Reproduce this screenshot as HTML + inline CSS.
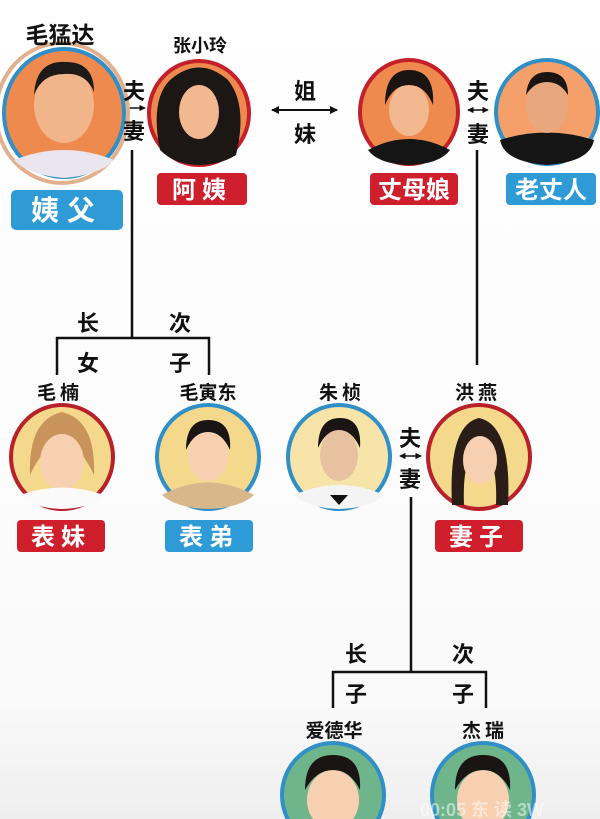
<!DOCTYPE html>
<html><head><meta charset="utf-8"><style>
html,body{margin:0;padding:0;background:#fff;}
svg{display:block;}
text{font-family:"Liberation Sans","Noto Sans CJK SC",sans-serif;font-weight:bold;}
</style></head><body>
<svg width="600" height="819" viewBox="0 0 600 819" xmlns="http://www.w3.org/2000/svg">
<defs>
<linearGradient id="bg" x1="0" y1="0" x2="0" y2="1">
<stop offset="0" stop-color="#ffffff"/><stop offset="0.85" stop-color="#fafafa"/><stop offset="1" stop-color="#eeeeee"/>
</linearGradient>
<marker id="ah" markerWidth="4" markerHeight="4" refX="3.5" refY="2" orient="auto-start-reverse" markerUnits="strokeWidth"><path d="M0,0 L4,2 L0,4 z" fill="#111"/></marker>
</defs>
<rect width="600" height="819" fill="url(#bg)"/>

<!-- lines -->
<g stroke="#111" stroke-width="2.5" fill="none">
<line x1="132" y1="150" x2="132" y2="338"/>
<polyline points="57,375 57,338 209,338 209,375"/>
<line x1="477" y1="150" x2="477" y2="365"/>
<line x1="411" y1="497" x2="411" y2="672"/>
<polyline points="333,708 333,672 486,672 486,708"/>
<line x1="272" y1="110" x2="337" y2="110" marker-start="url(#ah)" marker-end="url(#ah)" stroke-width="2"/>
<line x1="468" y1="110" x2="488" y2="110" marker-start="url(#ah)" marker-end="url(#ah)" stroke-width="1.6"/>
<line x1="400" y1="456" x2="421" y2="456" marker-start="url(#ah)" marker-end="url(#ah)" stroke-width="1.6"/>
<line x1="128" y1="108" x2="145" y2="108" marker-end="url(#ah)" stroke-width="1.6"/>
</g>

<!-- top row portraits -->
<ellipse cx="62" cy="113" rx="66" ry="70" fill="none" stroke="#e3b08e" stroke-width="4"/>
<g>
<ellipse cx="64" cy="113" rx="60" ry="64" fill="#ef8a4f" stroke="#2f8fc6" stroke-width="4"/>
<path d="M14,160 Q64,140 114,160 Q100,175 64,178 Q28,175 14,160z" fill="#e9e6f0"/>
<ellipse cx="64" cy="105" rx="30" ry="38" fill="#f1b58a"/>
<path d="M34,95 Q36,60 66,62 Q94,62 94,92 Q86,72 64,74 Q42,74 34,95z" fill="#1e1a18"/>
</g>
<g>
<ellipse cx="199" cy="113" rx="50" ry="52" fill="#ef8a4f" stroke="#c3202a" stroke-width="4"/>
<path d="M160,150 Q150,100 170,80 Q199,55 228,80 Q248,105 236,155 Q220,165 199,165 Q175,165 160,150z" fill="#1c1614"/>
<ellipse cx="199" cy="112" rx="20" ry="27" fill="#f2b890"/>
</g>
<g>
<ellipse cx="409" cy="112" rx="49" ry="52" fill="#ef8a4f" stroke="#c3202a" stroke-width="4"/>
<path d="M368,150 Q409,128 450,150 Q440,164 409,165 Q378,164 368,150z" fill="#151515"/>
<ellipse cx="409" cy="110" rx="20" ry="26" fill="#f2b890"/>
<path d="M385,105 Q385,70 409,70 Q435,70 433,105 Q425,85 409,85 Q393,85 385,105z" fill="#1a1513"/>
</g>
<g>
<ellipse cx="547" cy="112" rx="51" ry="52" fill="#f5a06a" stroke="#2f8fc6" stroke-width="4"/>
<path d="M500,140 Q547,125 594,140 Q590,162 547,165 Q504,162 500,140z" fill="#151515"/>
<ellipse cx="547" cy="105" rx="21" ry="28" fill="#e8a87e"/>
<path d="M526,95 Q528,72 547,72 Q568,72 568,95 Q560,82 547,82 Q534,82 526,95z" fill="#1a1513"/>
</g>

<!-- middle row portraits -->
<g>
<ellipse cx="62" cy="457" rx="51" ry="52" fill="#f4d98c" stroke="#b8202a" stroke-width="4"/>
<path d="M30,475 Q28,420 62,412 Q96,420 94,475 Q80,445 62,440 Q44,445 30,475z" fill="#c9945c"/>
<ellipse cx="62" cy="462" rx="22" ry="28" fill="#f6d0b0"/>
<path d="M20,495 Q62,480 104,495 Q92,508 62,509 Q32,508 20,495z" fill="#fafafa"/>
</g>
<g>
<ellipse cx="208" cy="457" rx="51" ry="52" fill="#f4d98c" stroke="#2f8fc6" stroke-width="4"/>
<path d="M162,495 Q208,470 254,495 Q240,508 208,509 Q176,508 162,495z" fill="#d8b88a"/>
<ellipse cx="208" cy="455" rx="20" ry="26" fill="#f6d0b0"/>
<path d="M186,450 Q186,420 208,420 Q232,420 230,450 Q222,432 208,432 Q194,432 186,450z" fill="#1a1513"/>
</g>
<g>
<ellipse cx="339" cy="457" rx="51" ry="52" fill="#f6e4a8" stroke="#2f8fc6" stroke-width="4"/>
<path d="M294,495 Q339,475 384,495 Q370,508 339,509 Q308,508 294,495z" fill="#f4f4f4"/>
<path d="M330,495 L348,495 L339,505z" fill="#111"/>
<ellipse cx="339" cy="455" rx="19" ry="26" fill="#e8c2a0"/>
<path d="M318,448 Q318,418 340,418 Q362,418 360,448 Q352,430 339,430 Q326,430 318,448z" fill="#1a1513"/>
</g>
<g>
<ellipse cx="479" cy="457" rx="51" ry="52" fill="#f4d98c" stroke="#b8202a" stroke-width="4"/>
<path d="M452,505 Q448,425 479,418 Q512,425 508,505 L496,505 Q498,455 479,448 Q462,455 464,505z" fill="#2a1d18"/>
<ellipse cx="480" cy="460" rx="17" ry="24" fill="#f6d0b0"/>
</g>

<!-- bottom row portraits -->
<g>
<ellipse cx="333" cy="795" rx="51" ry="52" fill="#6fb58c" stroke="#2f8fc6" stroke-width="4"/>
<ellipse cx="333" cy="800" rx="26" ry="30" fill="#f6d0b0"/>
<path d="M305,790 Q305,755 333,755 Q362,755 360,790 Q350,770 333,770 Q316,770 305,790z" fill="#1a1513"/>
</g>
<g>
<ellipse cx="483" cy="795" rx="51" ry="52" fill="#6fb58c" stroke="#2f8fc6" stroke-width="4"/>
<ellipse cx="483" cy="800" rx="26" ry="30" fill="#f6d0b0"/>
<path d="M455,790 Q455,755 483,755 Q512,755 510,790 Q500,770 483,770 Q466,770 455,790z" fill="#1a1513"/>
</g>
<text x="420" y="816" font-size="18" fill="#ffffff" opacity="0.5">00:05  东 读    3W</text>

<!-- badges -->
<rect x="11" y="190" width="112" height="40" rx="5" fill="#2e9bd7"/>
<text x="67" y="220" font-size="28" fill="#fff" text-anchor="middle" letter-spacing="8">姨父</text>
<rect x="157" y="173" width="90" height="32" rx="4" fill="#cf1f2c"/>
<text x="202" y="198" font-size="24" fill="#fff" text-anchor="middle" letter-spacing="6">阿姨</text>
<rect x="370" y="173" width="88" height="32" rx="4" fill="#cf1f2c"/>
<text x="414" y="198" font-size="24" fill="#fff" text-anchor="middle">丈母娘</text>
<rect x="506" y="173" width="90" height="32" rx="4" fill="#2e9bd7"/>
<text x="551" y="198" font-size="24" fill="#fff" text-anchor="middle">老丈人</text>
<rect x="17" y="520" width="88" height="32" rx="4" fill="#cf1f2c"/>
<text x="61" y="545" font-size="24" fill="#fff" text-anchor="middle" letter-spacing="6">表妹</text>
<rect x="165" y="520" width="88" height="32" rx="4" fill="#2e9bd7"/>
<text x="209" y="545" font-size="24" fill="#fff" text-anchor="middle" letter-spacing="6">表弟</text>
<rect x="435" y="520" width="88" height="32" rx="4" fill="#cf1f2c"/>
<text x="479" y="545" font-size="24" fill="#fff" text-anchor="middle" letter-spacing="6">妻子</text>

<!-- name labels -->
<g fill="#111" text-anchor="middle">
<text x="60" y="43" font-size="23">毛猛达</text>
<text x="200" y="52" font-size="18">张小玲</text>
<text x="60" y="399" font-size="19" letter-spacing="4">毛楠</text>
<text x="208" y="399" font-size="19">毛寅东</text>
<text x="342" y="399" font-size="19" letter-spacing="4">朱桢</text>
<text x="478" y="399" font-size="19" letter-spacing="4">洪燕</text>
<text x="334" y="737" font-size="19">爱德华</text>
<text x="485" y="737" font-size="19" letter-spacing="4">杰瑞</text>
<!-- relation labels -->
<text x="134" y="99" font-size="22">夫</text>
<text x="134" y="139" font-size="22">妻</text>
<text x="305" y="99" font-size="22">姐</text>
<text x="305" y="142" font-size="22">妹</text>
<text x="478" y="99" font-size="22">夫</text>
<text x="478" y="142" font-size="22">妻</text>
<text x="410" y="446" font-size="22">夫</text>
<text x="410" y="487" font-size="22">妻</text>
<text x="88" y="331" font-size="22">长</text>
<text x="180" y="331" font-size="22">次</text>
<text x="88" y="371" font-size="22">女</text>
<text x="180" y="371" font-size="22">子</text>
<text x="356" y="662" font-size="22">长</text>
<text x="463" y="662" font-size="22">次</text>
<text x="356" y="702" font-size="22">子</text>
<text x="463" y="702" font-size="22">子</text>
</g>
</svg>
</body></html>
